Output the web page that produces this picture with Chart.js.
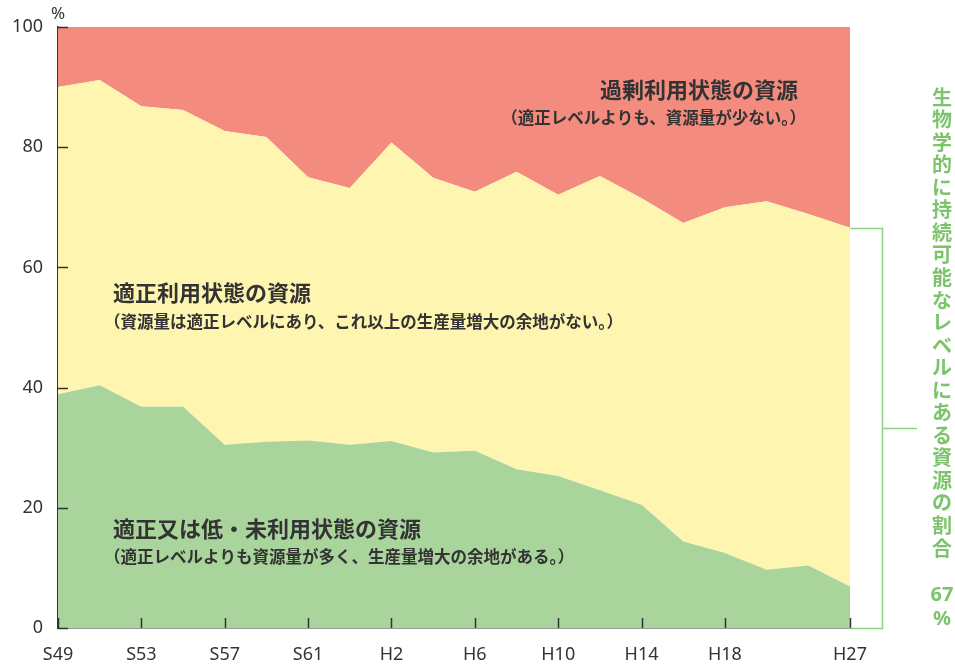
<!DOCTYPE html>
<html lang="ja">
<head>
<meta charset="utf-8">
<script src="https://cdn.jsdelivr.net/npm/chart.js@4/dist/chart.umd.min.js"></script>
<style>
html,body{margin:0;padding:0;background:#fff;}
#wrap{width:955px;height:668px;position:relative;}
</style>
</head>
<body>
<div id="wrap"><canvas id="c" width="955" height="668"></canvas></div>
<script>
const categories = ['S49','S51','S53','S55','S57','S59','S61','S63','H2','H4','H6','H8','H10','H12','H14','H16','H18','H20','H22','H27'];
const shownLabels = ['S49','S53','S57','S61','H2','H6','H10','H14','H18','H27'];
const yTicks = [0,20,40,60,80,100];
const underOrProper = [38.9,40.4,36.8,36.8,30.5,31.0,31.2,30.5,31.1,29.2,29.5,26.4,25.3,22.9,20.5,14.4,12.5,9.7,10.4,6.9];
const properUse    = [51.1,50.8,50.0,49.4,52.2,50.7,43.8,42.7,49.7,45.7,43.1,49.5,46.8,52.3,51.0,53.0,57.5,61.3,58.5,59.7];
const overUse      = [10.0,8.8,13.2,13.8,17.3,18.3,25.0,26.8,19.2,25.1,27.4,24.1,27.9,24.8,28.5,32.6,30.0,29.0,31.1,33.4];
const sustainableShare = '67';

const JP = '"Noto Sans CJK JP","Noto Sans",sans-serif';
const TXT = '#333333';
const GREEN_TXT = '#7cc46c';

const overlay = {
  id:'overlay',
  afterDatasetsDraw(chart){
    const {ctx, chartArea:a, scales:{x,y}} = chart;
    ctx.save();
    // inward ticks
    ctx.strokeStyle = TXT; ctx.lineWidth = 1.5;
    yTicks.forEach(v=>{
      const py = Math.round(y.getPixelForValue(v))+0.5;
      ctx.beginPath(); ctx.moveTo(a.left, py); ctx.lineTo(a.left+10, py); ctx.stroke();
    });
    categories.forEach((c,i)=>{
      if(!shownLabels.includes(c)) return;
      const px = Math.round(x.getPixelForValue(i))+0.5;
      ctx.beginPath(); ctx.moveTo(px, a.bottom); ctx.lineTo(px, a.bottom-10); ctx.stroke();
    });
    // % unit
    ctx.fillStyle = TXT;
    ctx.font = '17px "Noto Sans",sans-serif';
    ctx.textAlign='center'; ctx.textBaseline='middle';
    ctx.fillText('%', a.left, 14);
    // region labels
    ctx.font = 'bold 22px '+JP;
    ctx.textAlign='right';
    ctx.fillText('過剰利用状態の資源', 798, 90);
    ctx.font = 'bold 16.5px '+JP;
    ctx.fillText('（適正レベルよりも、資源量が少ない。）', 806, 118);
    ctx.textAlign='left';
    ctx.font = 'bold 22px '+JP;
    ctx.fillText('適正利用状態の資源', 113, 293);
    ctx.fillText('適正又は低・未利用状態の資源', 113, 529);
    ctx.font = 'bold 16.5px '+JP;
    ctx.fillText('（資源量は適正レベルにあり、これ以上の生産量増大の余地がない。）', 104, 322);
    ctx.fillText('（適正レベルよりも資源量が多く、生産量増大の余地がある。）', 104, 557);
    // bracket
    const last = categories.length-1;
    const topY = Math.round(y.getPixelForValue(underOrProper[last]+properUse[last]))+0.5;
    const botY = Math.round(a.bottom)+0.5;
    const bx = 882.5;
    ctx.strokeStyle = '#8fcf85'; ctx.lineWidth = 1.5;
    ctx.beginPath();
    ctx.moveTo(a.right, topY); ctx.lineTo(bx, topY); ctx.lineTo(bx, botY); ctx.lineTo(a.right, botY);
    ctx.moveTo(bx, 428.5); ctx.lineTo(917, 428.5);
    ctx.stroke();
    // vertical text
    ctx.fillStyle = GREEN_TXT;
    ctx.font = 'bold 20px '+JP;
    ctx.textAlign='center'; ctx.textBaseline='middle';
    const vt = '生物学的に持続可能なレベルにある資源の割合';
    [...vt].forEach((ch,i)=>{ ctx.fillText(ch, 942, 97 + i*22.55); });
    ctx.font = 'bold 20px "Noto Sans",sans-serif';
    ctx.fillText(sustainableShare, 942, 595);
    ctx.fillText('%', 942, 619);
    ctx.restore();
  }
};

new Chart(document.getElementById('c'), {
  type:'line',
  data:{
    labels: categories,
    datasets:[
      {label:'適正又は低・未利用状態の資源', data:underOrProper, backgroundColor:'#a9d49c', borderWidth:0, pointRadius:0, fill:'origin', tension:0},
      {label:'適正利用状態の資源', data:properUse, backgroundColor:'#fef5b0', borderWidth:0, pointRadius:0, fill:'-1', tension:0},
      {label:'過剰利用状態の資源', data:overUse, backgroundColor:'#f38b7f', borderWidth:0, pointRadius:0, fill:'-1', tension:0}
    ]
  },
  options:{
    responsive:false, animation:false, devicePixelRatio:1,
    layout:{padding:{left:0,right:105,top:27,bottom:0}},
    plugins:{legend:{display:false}, tooltip:{enabled:false}},
    elements:{line:{borderWidth:0}},
    scales:{
      x:{
        offset:false,
        grid:{display:false, drawTicks:false},
        border:{display:true, color:TXT, width:1.5},
        ticks:{autoSkip:false, maxRotation:0, padding:16, color:TXT,
          font:{family:'"Noto Sans",sans-serif', size:18},
          callback:(v,i)=> shownLabels.includes(categories[i]) ? categories[i] : ''},
        afterFit:(s)=>{ s.height = 40; }
      },
      y:{
        stacked:true, min:0, max:100,
        grid:{display:false, drawTicks:false},
        border:{display:true, color:TXT, width:1.5},
        ticks:{stepSize:20, padding:15, color:TXT, font:{family:'"Noto Sans",sans-serif', size:18}},
        afterFit:(s)=>{ s.width = 58; }
      }
    }
  },
  plugins:[overlay]
});
</script>
</body>
</html>
